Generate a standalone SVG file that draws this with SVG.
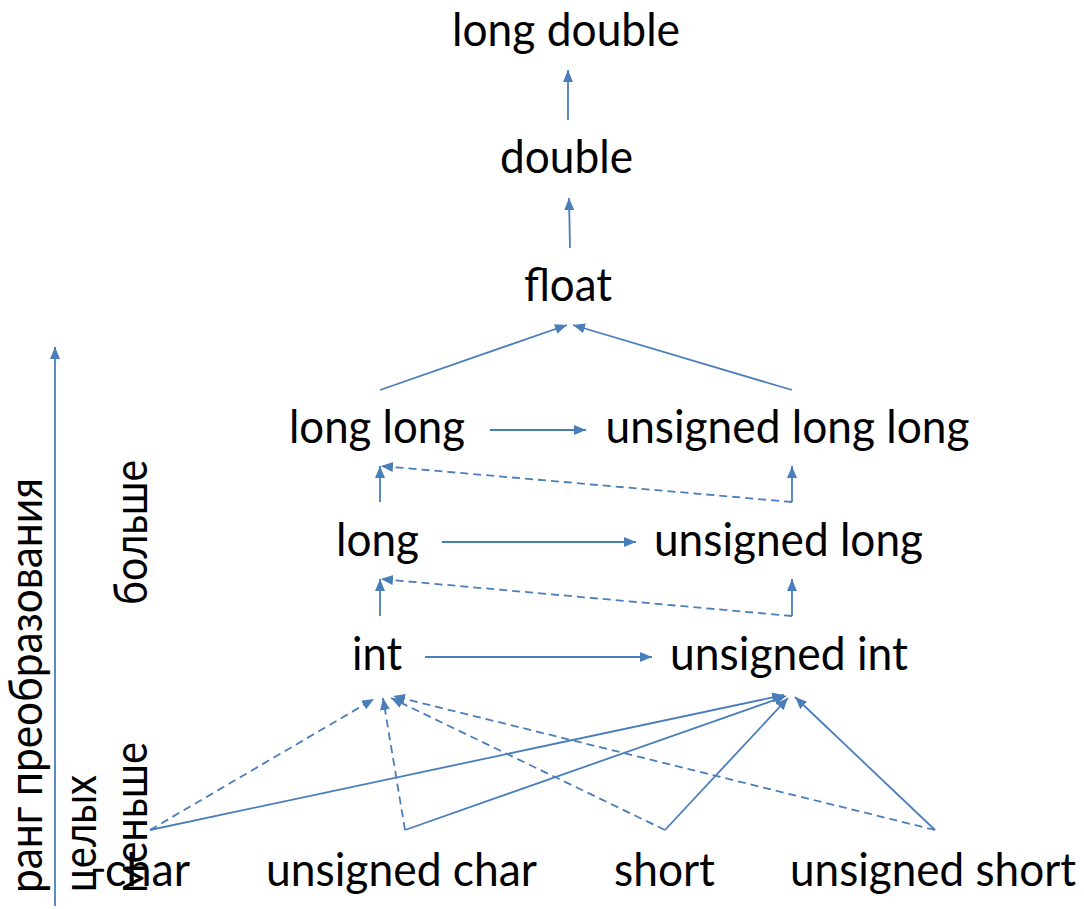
<svg xmlns="http://www.w3.org/2000/svg" width="1084" height="909" viewBox="0 0 1084 909">
<style>
.t{font-family:Lato,"Noto Sans","Liberation Sans",sans-serif;font-size:47px;fill:#000}
.c{fill:none;stroke:#4A7EBB;stroke-width:1.8}
.s{marker-end:url(#ah)}
.d{stroke-dasharray:8,5;marker-end:url(#ah)}
</style>
<defs>
<marker id="ah" markerUnits="userSpaceOnUse" markerWidth="14" markerHeight="12" refX="12" refY="5" orient="auto">
<path d="M0,0 L12,5 L0,10 z" fill="#4A7EBB"/>
</marker>
</defs>
<rect width="1084" height="909" fill="#fff"/>
<g id="connectors" class="c">
<line x1="568" y1="120" x2="568" y2="70" class="s"/>
<line x1="570" y1="248" x2="569" y2="198" class="s"/>
<line x1="380" y1="390" x2="567" y2="325" class="s"/>
<line x1="792" y1="390" x2="573" y2="325" class="s"/>
<line x1="490" y1="430" x2="586" y2="430" class="s"/>
<line x1="380" y1="502" x2="380" y2="466" class="s"/>
<line x1="792" y1="502" x2="792" y2="466" class="s"/>
<line x1="792" y1="502" x2="381" y2="466" class="d"/>
<line x1="442" y1="542" x2="636" y2="542" class="s"/>
<line x1="380" y1="616" x2="380" y2="579" class="s"/>
<line x1="792" y1="616" x2="792" y2="579" class="s"/>
<line x1="792" y1="616" x2="381" y2="579" class="d"/>
<line x1="425" y1="657" x2="652" y2="657" class="s"/>
<line x1="150" y1="830" x2="374" y2="699" class="d"/>
<line x1="405" y1="830" x2="383" y2="698" class="d"/>
<line x1="665" y1="830" x2="391" y2="698" class="d"/>
<line x1="935" y1="830" x2="393" y2="696" class="d"/>
<line x1="150" y1="830" x2="784" y2="695" class="s"/>
<line x1="405" y1="830" x2="786" y2="696" class="s"/>
<line x1="665" y1="830" x2="788" y2="698" class="s"/>
<line x1="935" y1="830" x2="795" y2="697" class="s"/>
<line x1="55" y1="906" x2="55" y2="347" class="s"/>
</g>
<g id="n-long-double"><text class="t" x="566" y="46" text-anchor="middle" textLength="228" lengthAdjust="spacingAndGlyphs">long double</text></g>
<g id="n-double"><text class="t" x="566.5" y="173" text-anchor="middle" textLength="133" lengthAdjust="spacingAndGlyphs">double</text></g>
<g id="n-float"><text class="t" x="568" y="301" text-anchor="middle" textLength="88" lengthAdjust="spacingAndGlyphs">float</text></g>
<g id="n-long-long"><text class="t" x="377" y="443" text-anchor="middle" textLength="176" lengthAdjust="spacingAndGlyphs">long long</text></g>
<g id="n-ulong-long"><text class="t" x="787.5" y="443" text-anchor="middle" textLength="364" lengthAdjust="spacingAndGlyphs">unsigned long long</text></g>
<g id="n-long"><text class="t" x="377.5" y="556" text-anchor="middle" textLength="83" lengthAdjust="spacingAndGlyphs">long</text></g>
<g id="n-ulong"><text class="t" x="788.5" y="556" text-anchor="middle" textLength="269" lengthAdjust="spacingAndGlyphs">unsigned long</text></g>
<g id="n-int"><text class="t" x="377" y="670" text-anchor="middle" textLength="50" lengthAdjust="spacingAndGlyphs">int</text></g>
<g id="n-uint"><text class="t" x="789" y="670" text-anchor="middle" textLength="238" lengthAdjust="spacingAndGlyphs">unsigned int</text></g>
<g id="n-char"><text class="t" x="147.5" y="886" text-anchor="middle" textLength="85" lengthAdjust="spacingAndGlyphs">char</text></g>
<g id="n-uchar"><text class="t" x="401.5" y="886" text-anchor="middle" textLength="271" lengthAdjust="spacingAndGlyphs">unsigned char</text></g>
<g id="n-short"><text class="t" x="664.5" y="886" text-anchor="middle" textLength="101" lengthAdjust="spacingAndGlyphs">short</text></g>
<g id="n-ushort"><text class="t" x="933" y="886" text-anchor="middle" textLength="286" lengthAdjust="spacingAndGlyphs">unsigned short</text></g>
<g id="axis-label">
<text class="t" transform="translate(42,893) rotate(-90)" textLength="415" lengthAdjust="spacingAndGlyphs">ранг преобразования</text>
<text class="t" transform="translate(96,892) rotate(-90)" textLength="117" lengthAdjust="spacingAndGlyphs">целых</text>
</g>
<g id="rank-labels">
<text class="t" transform="translate(147,893) rotate(-90)" textLength="151" lengthAdjust="spacingAndGlyphs">меньше</text>
<text class="t" transform="translate(147,605) rotate(-90)" textLength="145" lengthAdjust="spacingAndGlyphs">больше</text>
</g>
</svg>
